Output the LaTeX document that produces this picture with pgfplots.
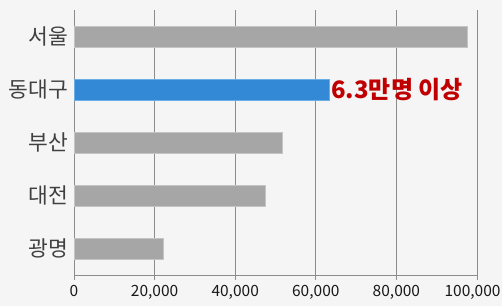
\documentclass[border=0pt]{standalone}
\usepackage{pgfplots}
\pgfplotsset{compat=1.18}
\usepackage{fontspec}
\setmainfont{Noto Sans CJK KR}
\definecolor{bggray}{HTML}{F5F5F5}
\definecolor{bargray}{HTML}{A6A6A6}
\definecolor{baredge}{HTML}{C4C4C4}
\definecolor{barblue}{HTML}{3489D6}
\definecolor{blueedge}{HTML}{6AAEE8}
\definecolor{gridc}{HTML}{8C8C8C}
\definecolor{labred}{HTML}{C00000}
\begin{document}
\begin{tikzpicture}[x=1pt,y=1pt]
\fill[bggray] (0,0) rectangle (502,306);
\begin{axis}[
  at={(74pt,31pt)}, anchor=south west,
  scale only axis, width=403pt, height=265pt,
  xbar, bar width=21pt,
  xmin=0, xmax=100000,
  ymin=-0.5, ymax=4.5, y dir=reverse,
  ytick={0,1,2,3,4},
  yticklabels={서울,동대구,부산,대전,광명},
  xtick={0,20000,40000,60000,80000,100000},
  xticklabels={0,{20,000},{40,000},{60,000},{80,000},{\hspace*{-9pt}100,000}},
  scaled x ticks=false,
  axis line style={gridc, line width=0.9pt},
  axis x line*=bottom, axis y line*=left,
  x axis line style={-}, y axis line style={-},
  xmajorgrids, major grid style={gridc, line width=0.9pt},
  major tick length=5pt,
  xtick style={gridc, line width=0.9pt},
  xtick pos=lower,
  ytick style={draw=none},
  tick align=outside,
  yticklabel style={font=\fontsize{21.5pt}{22pt}\selectfont, text=black!75, inner sep=1pt},
  xticklabel style={font=\fontsize{15.5pt}{16pt}\selectfont, text=black!90, yshift=-2pt},
  clip=false,
]
\addplot[fill=bargray, draw=baredge, bar shift=0pt] coordinates {
  (97500,0) (51600,2) (47400,3) (22100,4)
};
\addplot[fill=barblue, draw=blueedge, bar shift=0pt] coordinates {
  (63300,1)
};
\node[anchor=west, text=labred, font=\bfseries\fontsize{24pt}{26pt}\selectfont, inner sep=2pt] at (axis cs:63300,1) {6.3만명 이상};
\end{axis}
\pgfresetboundingbox
\useasboundingbox (0,0) rectangle (502,306);
\end{tikzpicture}
\end{document}
